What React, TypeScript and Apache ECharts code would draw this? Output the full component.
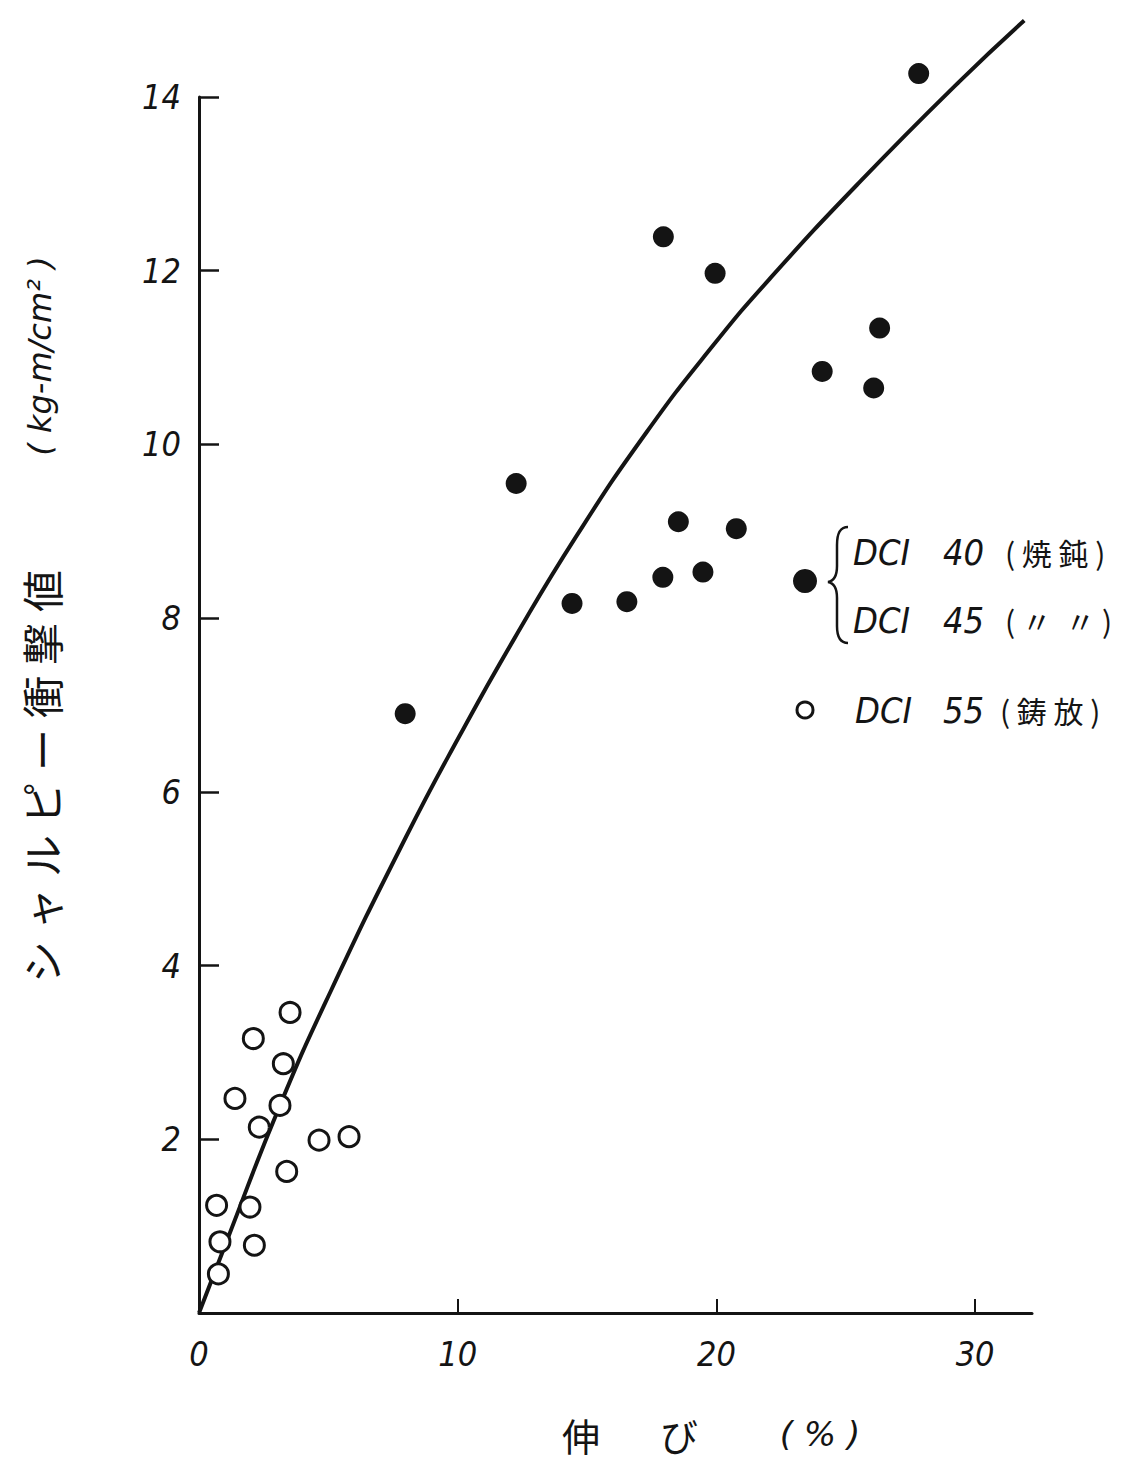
import React, { useEffect, useRef } from "react";
import * as echarts from "echarts";

// ---- Data ----
const xTickValues = [0, 10, 20, 30];
const yTickValues = [2, 4, 6, 8, 10, 12, 14];

// fitted curve
const curveX = [0, 1.1, 3.1, 5.1, 8.0, 10.1, 12.2, 14.6, 17.3, 19.9, 22.1, 25.6, 29.4, 31.9];
const curveY = [0, 0.85, 2.37, 3.71, 5.48, 6.66, 7.77, 8.95, 10.14, 11.15, 11.92, 13.04, 14.18, 14.88];

// DCI 40 / DCI 45 (焼鈍) – filled circles
const annealedX = [7.97, 12.26, 14.42, 16.54, 17.93, 17.95, 18.53, 19.48, 19.95, 20.77, 24.09, 26.08, 26.31, 27.82];
const annealedY = [6.9, 9.55, 8.17, 8.19, 8.47, 12.39, 9.11, 8.53, 11.97, 9.03, 10.84, 10.65, 11.34, 14.27];

// DCI 55 (鋳放) – open circles
const castX = [3.52, 2.1, 3.26, 1.39, 3.13, 2.33, 4.64, 5.8, 3.39, 0.68, 1.97, 0.81, 2.14, 0.75];
const castY = [3.46, 3.16, 2.87, 2.47, 2.39, 2.14, 1.99, 2.03, 1.63, 1.24, 1.22, 0.82, 0.78, 0.45];

const legendRows = [
  { label: "DCI", num: "40", note: "( 焼 鈍 )" },
  { label: "DCI", num: "45", note: "( 〃  〃 )" },
  { label: "DCI", num: "55", note: "( 鋳 放 )" },
];

const yTitleChars = ["シ", "ャ", "ル", "ピ", "ー", "衝", "撃", "値"];
const yUnit = "( kg-m/cm² )";
const xTitleParts = ["伸", "び", "( % )"];

// ---- Styles ----
const INK = "#141414";
const LATIN = "'Liberation Sans Narrow', 'DejaVu Sans Condensed', 'Liberation Sans', sans-serif";
const WIDE = "'DejaVu Sans', 'Liberation Sans', sans-serif";
const CJK = "'Noto Sans CJK JP', 'Noto Sans CJK SC', sans-serif";

const BRACE_D =
  "M 848 527 C 840 527 837 533 837 545 L 837 566 C 837 576 834 581 828 582 C 834 583 837 588 837 598 L 837 626 C 837 637 840 643 848 643";
echarts.graphic.registerShape("brace", echarts.graphic.extendPath(BRACE_D, {}));

const zip = (xs: number[], ys: number[]) => xs.map((x, i) => [x, ys[i]]);

export default function App() {
  const ref = useRef<HTMLDivElement>(null);
  useEffect(() => {
    document.body.style.margin = "0";
    const chart = echarts.init(ref.current!, null, { renderer: "svg" });

    const latinText = (text: string, x: number, y: number, size: number) => ({
      type: "text",
      x,
      y,
      style: {
        text,
        fill: INK,
        font: `italic ${size}px ${LATIN}`,
        align: "left",
        verticalAlign: "middle",
      },
    });
    const cjkText = (text: string, x: number, y: number, size: number) => ({
      type: "text",
      x,
      y,
      style: {
        text,
        fill: INK,
        font: `${size}px ${CJK}`,
        align: "left",
        verticalAlign: "middle",
      },
    });

    const rowY = [552, 620, 710];
    const legendGraphics: any[] = [];
    legendRows.forEach((r, i) => {
      legendGraphics.push(latinText(r.label, i === 2 ? 855 : 853, rowY[i], 36));
      legendGraphics.push(latinText(r.num, 943, rowY[i], 36));
      legendGraphics.push(cjkText(r.note, i === 2 ? 1000 : 1005, rowY[i], 30));
    });

    const option: any = {
      animation: false,
      backgroundColor: "#ffffff",
      grid: { left: 199, top: 97, width: 833, height: 1216, containLabel: false },
      xAxis: {
        type: "value",
        min: 0,
        max: 32.2,
        interval: 10,
        axisLine: { show: true, lineStyle: { color: INK, width: 3 } },
        axisTick: {
          show: true,
          inside: true,
          length: 14,
          customValues: xTickValues,
          lineStyle: { color: INK, width: 2 },
        },
        axisLabel: {
          show: true,
          margin: 24,
          color: INK,
          fontSize: 34,
          fontStyle: "italic",
          fontFamily: LATIN,
          customValues: xTickValues,
          formatter: (v: number) => (xTickValues.includes(v) ? String(v) : ""),
        },
        splitLine: { show: false },
      },
      yAxis: {
        type: "value",
        min: 0,
        max: 14,
        interval: 2,
        axisLine: { show: true, lineStyle: { color: INK, width: 3 } },
        axisTick: { show: true, inside: true, length: 20, lineStyle: { color: INK, width: 2.5 } },
        axisLabel: {
          show: true,
          margin: 18,
          color: INK,
          fontSize: 34,
          fontStyle: "italic",
          fontFamily: LATIN,
          formatter: (v: number) => (yTickValues.includes(v) ? String(v) : ""),
        },
        splitLine: { show: false },
      },
      series: [
        {
          type: "line",
          name: "curve",
          data: zip(curveX, curveY),
          smooth: 0.5,
          showSymbol: false,
          clip: false,
          lineStyle: { color: INK, width: 4 },
          z: 3,
        },
        {
          type: "scatter",
          name: "DCI 40/45 (焼鈍)",
          data: zip(annealedX, annealedY),
          symbol: "circle",
          symbolSize: 21,
          clip: false,
          itemStyle: { color: INK, opacity: 1 },
          z: 4,
        },
        {
          type: "scatter",
          name: "DCI 55 (鋳放)",
          data: zip(castX, castY),
          symbol: "circle",
          symbolSize: 20,
          clip: false,
          itemStyle: { color: "#ffffff", borderColor: INK, borderWidth: 3, opacity: 1 },
          z: 5,
        },
      ],
      graphic: [
        // y-axis title (rotated, characters spaced out)
        {
          type: "group",
          x: 40,
          y: 962,
          rotation: Math.PI / 2,
          children: yTitleChars.map((c, i) => ({
            type: "text",
            x: i * 53,
            y: 0,
            style: {
              text: c,
              fill: INK,
              font: `42px ${CJK}`,
              align: "center",
              verticalAlign: "middle",
            },
          })),
        },
        {
          type: "text",
          x: 40,
          y: 356,
          rotation: Math.PI / 2,
          style: {
            text: yUnit,
            fill: INK,
            font: `italic 32px ${WIDE}`,
            align: "center",
            verticalAlign: "middle",
          },
        },
        // x-axis title
        {
          type: "text",
          x: 581,
          y: 1434,
          style: { text: xTitleParts[0], fill: INK, font: `38px ${CJK}`, align: "center", verticalAlign: "middle" },
        },
        {
          type: "text",
          x: 679,
          y: 1434,
          style: { text: xTitleParts[1], fill: INK, font: `38px ${CJK}`, align: "center", verticalAlign: "middle" },
        },
        {
          type: "text",
          x: 820,
          y: 1434,
          style: { text: xTitleParts[2], fill: INK, font: `italic 34px ${WIDE}`, align: "center", verticalAlign: "middle" },
        },
        // legend
        { type: "circle", shape: { cx: 805, cy: 581, r: 12 }, style: { fill: INK } },
        { type: "brace", x: 0, y: 0, style: { stroke: INK, fill: "none", lineWidth: 2.5 } },
        { type: "circle", shape: { cx: 805, cy: 710, r: 8 }, style: { fill: "#ffffff", stroke: INK, lineWidth: 3 } },
        ...legendGraphics,
      ],
    };

    chart.setOption(option);
    return () => chart.dispose();
  }, []);
  return <div ref={ref} style={{ width: 1135, height: 1461 }} />;
}
